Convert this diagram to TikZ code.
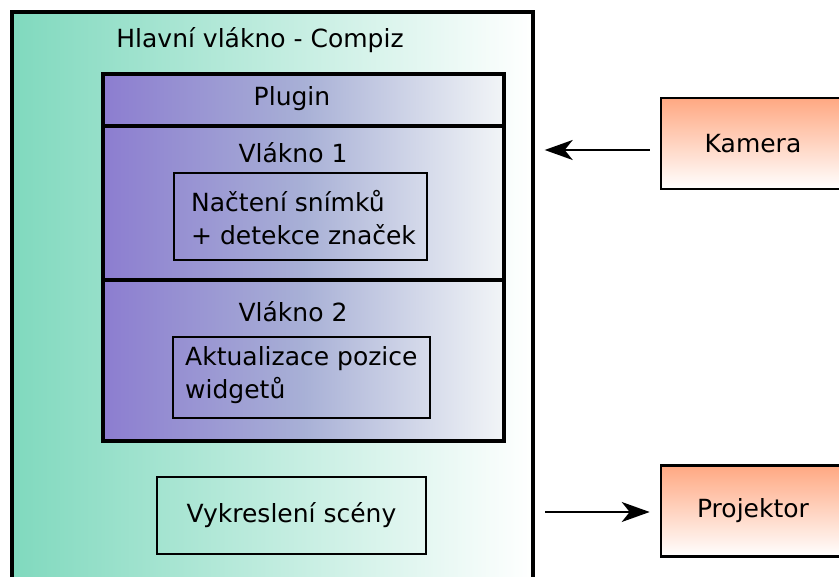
\documentclass[tikz,border=0pt]{standalone}
\usepackage{fontspec}
\setmainfont{DejaVu Sans}
\usetikzlibrary{arrows.meta}
\definecolor{tealL}{RGB}{128,217,190}
\definecolor{purpL}{RGB}{140,125,208}
\definecolor{purpM}{RGB}{168,176,214}
\definecolor{purpR}{RGB}{242,245,247}
\definecolor{orangeT}{RGB}{255,168,130}
\tikzset{
  x=1pt,y=-1pt,
  every node/.style={font=\fontsize{25}{33}\selectfont, inner sep=0pt, text=black},
  mainbox/.style={draw, line width=3.2pt, left color=tealL, right color=white, minimum width=521pt, minimum height=578pt},
  plugbox/.style={draw, line width=3.2pt, left color=purpL, right color=purpR, middle color=purpM, minimum width=401pt},
  taskbox/.style={draw, line width=2.3pt},
  devbox/.style={draw, line width=2.6pt, top color=orangeT, bottom color=white, minimum width=184pt, minimum height=91pt},
  arr/.style={line width=1.8pt, -{Stealth[length=28pt,width=20pt,inset=8pt]}}
}
\begin{document}
\begin{tikzpicture}
\useasboundingbox (0,0) rectangle (839,577);
\node[mainbox] (main) at (272.5,301) {};
\node (title) at (260,40) {Hlavní vlákno - Compiz};
\node[plugbox, minimum height=52pt] (plug) at (303.5,100) {};
\node (plugt) at (292,99) {Plugin};
\node[plugbox, minimum height=154pt] (v1) at (303.5,203) {};
\node (v1t) at (293,153) {Vlákno 1};
\node[plugbox, minimum height=161pt] (v2) at (303.5,360.5) {};
\node (v2t) at (293,312) {Vlákno 2};
\node[taskbox, minimum width=253pt, minimum height=87pt] (t1) at (300.5,216.5) {};
\node[align=left, anchor=west] (t1t) at (191,218) {Načtení snímků\\+ detekce značek};
\node[taskbox, minimum width=257pt, minimum height=81pt] (t2) at (301.5,377.5) {};
\node[align=left, anchor=west] (t2t) at (185,375) {Aktualizace pozice\\widgetů};
\node[taskbox, minimum width=269pt, minimum height=77pt] (t3) at (291.5,515.5) {Vykreslení scény};
\node[devbox] (kam) at (753,143.5) {Kamera};
\node[devbox] (proj) at (753,511) {Projektor};
\draw[arr] ([shift={(-10pt,-6.5pt)}]kam.west) -- ++(-105,0);
\coordinate (projIn) at (545,512);
\draw[arr] (projIn) -- ([shift={(-10pt,-1pt)}]proj.west);
\end{tikzpicture}
\end{document}
